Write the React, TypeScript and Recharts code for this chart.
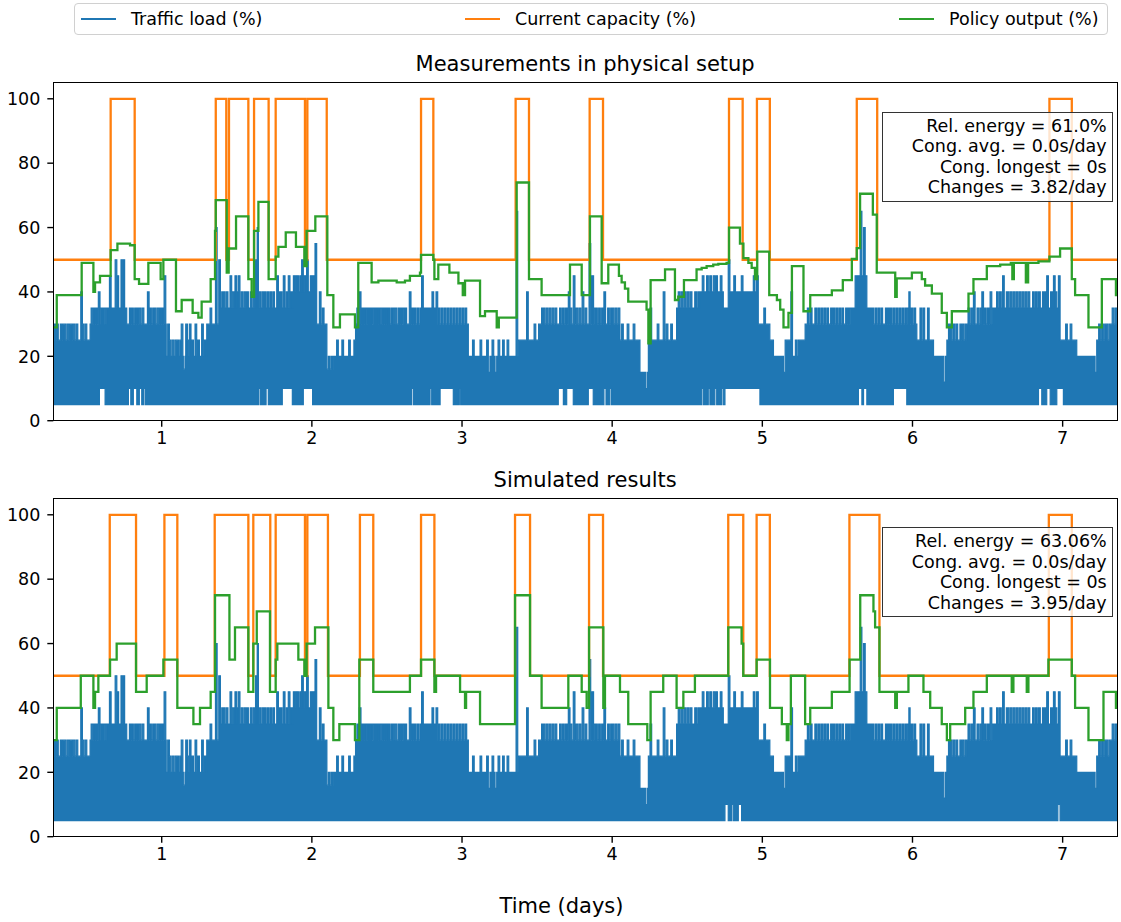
import { ComposedChart, Area, Line, XAxis, YAxis } from "recharts";

const X_MIN = 0.278;
const X_MAX = 7.362;
const SPIKE_W = 0.011;

const BLUE = "#1f77b4";
const ORANGE = "#ff7f0e";
const GREEN = "#2ca02c";
const FONT = "'DejaVu Sans', sans-serif";

const xTicks = [1, 2, 3, 4, 5, 6, 7];
const yTicks = [0, 20, 40, 60, 80, 100];
const seriesNames = ["Traffic load (%)", "Current capacity (%)", "Policy output (%)"];
const titles = ["Measurements in physical setup", "Simulated results"];
const stats1 = ["Rel. energy = 61.0%", "Cong. avg. = 0.0s/day", "Cong. longest = 0s", "Changes = 3.82/day"];
const stats2 = ["Rel. energy = 63.06%", "Cong. avg. = 0.0s/day", "Cong. longest = 0s", "Changes = 3.95/day"];

// traffic load: dense part of the trace, [day, level] (step)
const trafficBase: [number, number][] = [
  [0.278, 25], [0.523, 30], [0.645, 35], [0.767, 30], [1.03, 20], [1.3, 30], [1.388, 35],
  [1.877, 40], [2.032, 30], [2.1, 16], [2.143, 20], [2.287, 30], [2.72, 35], [2.831, 30],
  [3.042, 20], [3.375, 25], [3.52, 30], [4.052, 25], [4.185, 15], [4.241, 25], [4.429, 35],
  [4.585, 40], [4.74, 35], [4.784, 40], [4.973, 30], [5.05, 25], [5.074, 20], [5.152, 25],
  [5.197, 20], [5.24, 25], [5.285, 30], [5.585, 35], [5.629, 45], [5.696, 35], [5.74, 30],
  [6.029, 25], [6.14, 20], [6.229, 25], [6.362, 30], [6.539, 35], [6.983, 25], [7.094, 20],
  [7.227, 25], [7.316, 30],
];

// traffic load: single peaks / dips on top of the dense part
const trafficSpikes: [number, number][] = [
  [0.3, 30], [0.325, 30], [0.35, 30], [0.37, 30], [0.395, 30], [0.41, 30], [0.461, 40], [0.47, 30],
  [0.49, 30], [0.545, 35], [0.578, 40], [0.601, 35], [0.623, 35], [0.652, 45], [0.69, 50], [0.702, 45],
  [0.729, 50], [0.742, 50], [0.785, 35], [0.834, 35], [0.905, 40], [0.95, 35], [0.985, 35], [1.016, 45], [1.04, 30],
  [1.13, 30], [1.144, 16], [1.16, 30], [1.184, 30], [1.222, 30], [1.266, 30], [1.322, 35], [1.358, 60],
  [1.38, 50], [1.41, 40], [1.455, 45], [1.488, 45], [1.51, 45], [1.566, 40], [1.61, 40], [1.625, 50],
  [1.633, 60], [1.68, 40], [1.72, 40], [1.766, 45], [1.81, 45], [1.843, 45], [1.877, 45], [1.9, 45],
  [1.932, 50], [1.965, 50], [1.99, 45], [2.021, 55], [2.05, 40], [2.07, 35], [2.11, 20], [2.13, 20],
  [2.165, 25], [2.2, 25], [2.245, 25], [2.28, 25], [2.3, 35], [2.316, 40], [2.354, 35], [2.38, 35],
  [2.409, 35], [2.443, 35], [2.47, 35], [2.498, 35], [2.542, 35], [2.576, 35], [2.609, 35], [2.649, 40],
  [2.68, 35], [2.731, 45], [2.8, 40], [2.827, 40], [2.86, 35], [2.9, 35], [2.94, 35], [2.96, 35],
  [3.02, 35], [3.07, 25], [3.12, 25], [3.164, 25], [3.175, 15], [3.2, 25], [3.22, 15], [3.24, 25],
  [3.27, 25], [3.3, 25], [3.36, 65], [3.43, 40], [3.48, 30], [3.51, 30], [3.56, 35], [3.65, 35],
  [3.708, 40], [3.741, 45], [3.76, 35], [3.8, 40], [3.846, 55], [3.865, 45], [3.89, 35], [3.945, 40],
  [3.97, 35], [4.0, 35], [4.063, 30], [4.1, 30], [4.14, 30], [4.225, 10], [4.252, 35], [4.3, 30],
  [4.34, 40], [4.36, 30], [4.39, 30], [4.48, 40], [4.55, 40], [4.629, 45], [4.673, 45], [4.72, 45],
  [4.773, 50], [4.81, 45], [4.86, 45], [4.94, 45], [4.962, 45], [5.01, 35], [5.141, 15], [5.19, 40],
  [5.22, 25], [5.32, 35], [5.41, 35], [5.455, 35], [5.51, 35], [5.555, 35], [5.618, 45], [5.652, 65],
  [5.674, 60], [5.75, 35], [5.79, 35], [5.82, 35], [5.835, 35], [5.87, 35], [5.89, 35], [5.965, 35],
  [5.973, 40], [6.01, 35], [6.05, 35], [6.07, 35], [6.1, 35], [6.209, 12], [6.25, 30], [6.316, 30],
  [6.35, 30], [6.406, 40], [6.43, 35], [6.462, 40], [6.5, 35], [6.517, 40], [6.58, 40], [6.6, 45],
  [6.625, 40], [6.67, 40], [6.73, 40], [6.8, 40], [6.866, 40], [6.894, 45], [6.939, 45], [6.972, 45],
  [7.02, 30], [7.05, 30], [7.216, 15], [7.26, 30], [7.29, 30],
];

// the thinner comb of small peaks on top of the dense part
const trafficComb: [number, number][] = [
  [0.285, 30], [0.34, 30], [0.385, 30], [0.43, 30], [0.53, 35], [0.56, 35], [0.59, 35], [0.61, 35],
  [0.635, 35], [0.8, 35], [0.82, 35], [0.85, 35], [0.87, 35], [0.92, 35], [0.94, 35], [0.97, 35],
  [1.0, 35], [1.05, 25], [1.07, 25], [1.09, 25], [1.1, 25], [1.12, 25], [1.17, 25], [1.2, 25],
  [1.24, 25], [1.27, 25], [1.285, 25], [1.4, 40], [1.43, 40], [1.47, 40], [1.5, 40], [1.53, 40],
  [1.55, 40], [1.59, 40], [1.65, 40], [1.67, 40], [1.7, 40], [1.74, 40], [1.78, 40], [1.79, 40],
  [1.83, 40], [1.86, 40], [1.89, 45], [1.92, 45], [1.95, 45], [2.0, 45], [2.01, 45], [2.33, 35],
  [2.34, 35], [2.37, 35], [2.39, 35], [2.42, 35], [2.43, 35], [2.455, 35], [2.485, 35], [2.51, 35],
  [2.53, 35], [2.555, 35], [2.59, 35], [2.62, 35], [2.665, 35], [2.7, 35], [2.84, 35], [2.88, 35],
  [2.92, 35], [2.98, 35], [3.0, 35], [3.53, 35], [3.54, 35], [3.58, 35], [3.6, 35], [3.62, 35],
  [3.67, 35], [3.69, 35], [3.72, 35], [3.78, 35], [3.82, 35], [3.88, 35], [3.91, 35], [3.93, 35],
  [3.99, 35], [4.02, 35], [4.04, 35], [4.44, 40], [4.46, 40], [4.5, 40], [4.52, 40], [4.57, 40],
  [4.6, 45], [4.65, 45], [4.69, 45], [5.3, 35], [5.35, 35], [5.37, 35], [5.39, 35], [5.43, 35],
  [5.47, 35], [5.49, 35], [5.53, 35], [5.57, 35], [5.77, 35], [5.85, 35], [5.91, 35], [5.93, 35],
  [5.95, 35], [5.99, 35], [6.24, 30], [6.27, 30], [6.29, 30], [6.33, 30], [6.37, 35], [6.39, 35],
  [6.45, 35], [6.48, 35], [6.53, 35], [6.56, 40], [6.63, 40], [6.65, 40], [6.69, 40], [6.71, 40],
  [6.75, 40], [6.77, 40], [6.82, 40], [6.84, 40], [6.88, 40], [6.92, 40], [6.95, 40], [7.24, 30],
  [7.28, 30], [7.31, 30], [7.33, 35], [7.35, 35],
];

// spans where the load never falls below 10 %
const holes1: [number, number][] = [
  [0.585, 0.623], [0.778, 0.794], [0.811, 0.834], [0.851, 0.867], [0.878, 0.889], [1.644, 1.655],
  [1.695, 1.71], [1.803, 1.87], [1.943, 2.005], [2.664, 2.676], [2.787, 2.798], [2.854, 2.942],
  [2.982, 2.991], [3.641, 3.675], [3.697, 3.741], [3.841, 3.874], [3.945, 3.959], [3.985, 3.996],
  [4.596, 4.607], [4.64, 4.651], [4.684, 4.696], [4.729, 4.74], [4.751, 4.984], [5.64, 5.663],
  [5.674, 5.696], [5.873, 5.962], [6.839, 6.861], [6.894, 6.917], [6.961, 7.005],
];
const holes2: [number, number][] = [
  [4.751, 4.773], [4.795, 4.806], [4.84, 4.862], [6.968, 6.983],
];

// current capacity, [day, %] (step)
const capacity1: [number, number][] = [
  [0.278, 50], [0.66, 100], [0.82, 50], [1.36, 100], [1.43, 50], [1.448, 100], [1.577, 50],
  [1.615, 100], [1.712, 50], [1.759, 100], [1.954, 50], [1.97, 100], [2.099, 50], [2.727, 100],
  [2.809, 50], [3.357, 100], [3.446, 50], [3.85, 100], [3.939, 50], [4.778, 100], [4.869, 50],
  [4.964, 100], [5.05, 50], [5.629, 100], [5.765, 50], [6.912, 100], [7.061, 50], [7.362, 50],
];
const capacity2: [number, number][] = [
  [0.278, 50], [0.654, 100], [0.829, 50], [1.018, 100], [1.104, 50], [1.353, 100], [1.577, 50],
  [1.61, 100], [1.723, 50], [1.759, 100], [1.954, 50], [1.97, 100], [2.107, 50], [2.32, 100],
  [2.409, 50], [2.727, 100], [2.816, 50], [3.353, 100], [3.453, 50], [3.846, 100], [3.939, 50],
  [4.773, 100], [4.873, 50], [4.962, 100], [5.05, 50], [5.58, 100], [5.78, 50], [6.908, 100],
  [7.061, 50], [7.362, 50],
];

// policy output, [day, %] (step)
const policy1: [number, number][] = [
  [0.278, 29], [0.301, 39], [0.467, 49], [0.545, 40], [0.556, 43], [0.589, 45], [0.66, 53],
  [0.705, 55], [0.789, 54.5], [0.82, 44], [0.849, 42.5], [0.911, 49], [0.993, 44], [1.011, 50],
  [1.095, 34], [1.133, 37.5], [1.206, 33.5], [1.244, 32], [1.266, 37], [1.326, 44], [1.355, 59],
  [1.36, 68.5], [1.433, 46], [1.446, 53.5], [1.495, 63.5], [1.577, 44], [1.599, 38.5], [1.615, 59],
  [1.644, 68], [1.712, 44], [1.759, 51], [1.777, 54], [1.826, 58.5], [1.894, 54], [1.95, 48],
  [1.965, 59], [2.023, 63.5], [2.103, 39], [2.143, 29], [2.187, 33], [2.287, 29], [2.309, 49],
  [2.398, 43], [2.443, 43.5], [2.565, 43], [2.62, 43.5], [2.653, 45], [2.72, 46], [2.727, 51.5],
  [2.809, 50], [2.816, 44], [2.842, 48.5], [2.916, 46], [2.976, 42.7], [3.005, 39], [3.02, 43.5],
  [3.12, 32.5], [3.153, 34], [3.231, 29], [3.245, 32], [3.353, 32], [3.364, 74], [3.446, 44],
  [3.53, 39], [3.719, 48.5], [3.797, 39], [3.852, 63.5], [3.93, 42.7], [3.974, 48.5], [4.045, 45],
  [4.063, 43], [4.085, 41], [4.107, 37], [4.229, 34.5], [4.241, 24], [4.256, 43.7], [4.352, 47],
  [4.418, 37.5], [4.44, 38.5], [4.478, 43.7], [4.562, 47], [4.596, 47.5], [4.629, 48], [4.673, 48.5],
  [4.707, 48.7], [4.762, 49], [4.778, 60], [4.851, 55], [4.874, 50.5], [4.907, 49], [4.929, 47.5],
  [4.951, 44], [4.966, 52.5], [5.046, 39], [5.097, 37.5], [5.119, 34.5], [5.141, 29], [5.174, 33.5],
  [5.197, 48], [5.274, 34], [5.319, 39], [5.463, 40.5], [5.536, 43.7], [5.596, 50.3], [5.629, 53.6],
  [5.651, 70.5], [5.736, 64], [5.762, 46], [5.885, 38.5], [5.895, 44.2], [5.996, 46], [6.062, 44],
  [6.084, 42], [6.129, 39.5], [6.195, 33.5], [6.229, 29], [6.262, 34], [6.373, 39.5], [6.406, 44],
  [6.495, 48], [6.584, 48.5], [6.655, 49], [6.665, 44], [6.675, 49], [6.755, 43], [6.77, 49],
  [6.839, 49.5], [6.912, 51], [6.983, 53.5], [7.061, 44], [7.083, 39], [7.172, 29], [7.261, 44],
  [7.355, 39], [7.362, 39],
];
const policy2: [number, number][] = [
  [0.278, 30], [0.301, 40], [0.461, 50], [0.545, 40], [0.556, 45], [0.578, 50], [0.656, 55],
  [0.7, 60], [0.829, 45], [0.9, 50], [1.011, 55], [1.104, 40], [1.211, 35], [1.255, 40],
  [1.326, 45], [1.355, 75], [1.451, 55], [1.488, 65], [1.577, 45], [1.61, 60], [1.633, 70],
  [1.721, 45], [1.759, 55], [1.77, 60], [1.91, 55], [1.95, 50], [1.965, 60], [2.021, 65],
  [2.11, 40], [2.143, 30], [2.183, 35], [2.287, 30], [2.316, 55], [2.409, 45], [2.653, 50],
  [2.727, 55], [2.816, 45], [2.827, 50], [2.987, 45], [3.02, 40], [3.027, 45], [3.12, 35],
  [3.353, 75], [3.453, 50], [3.53, 40], [3.708, 50], [3.797, 45], [3.83, 40], [3.846, 65],
  [3.941, 40], [3.952, 50], [4.052, 45], [4.107, 35], [4.234, 30], [4.256, 45], [4.34, 50],
  [4.429, 40], [4.474, 45], [4.551, 50], [4.773, 65], [4.862, 60], [4.873, 50], [4.962, 55],
  [5.051, 40], [5.13, 35], [5.163, 30], [5.174, 35], [5.19, 50], [5.285, 35], [5.319, 40],
  [5.463, 45], [5.581, 55], [5.652, 75], [5.74, 70], [5.751, 65], [5.78, 45], [5.885, 40],
  [5.896, 45], [5.973, 50], [6.073, 45], [6.118, 40], [6.195, 35], [6.229, 30], [6.251, 35],
  [6.351, 40], [6.406, 45], [6.495, 50], [6.661, 45], [6.672, 50], [6.761, 45], [6.772, 50],
  [6.905, 55], [7.061, 50], [7.083, 40], [7.172, 30], [7.272, 45], [7.355, 40], [7.362, 40],
];

const toPoints = (pairs: [number, number][]) => pairs.map(([t, v]) => ({ t, v }));

const allSpikes = [...trafficSpikes, ...trafficComb];

function baseAt(t: number) {
  let v = trafficBase[0][1];
  for (const [bt, bv] of trafficBase) {
    if (bt <= t + 1e-9) v = bv;
    else break;
  }
  return v;
}

// merge dense level, peaks and holes into one stepped band [low, high]
function buildTraffic(holes: [number, number][]) {
  const set = new Set<number>();
  trafficBase.forEach(([t]) => set.add(t));
  allSpikes.forEach(([t]) => { set.add(t); set.add(+(t + SPIKE_W).toFixed(4)); });
  holes.forEach(([a, b]) => { set.add(a); set.add(b); });
  set.add(X_MAX);
  const ts = [...set].filter((t) => t >= X_MIN && t <= X_MAX).sort((a, b) => a - b);
  return ts.map((t) => {
    const s = allSpikes.find(([st]) => t >= st - 1e-9 && t < st + SPIKE_W - 1e-9);
    const hi = s ? s[1] : baseAt(t);
    const lo = holes.some(([a, b]) => t >= a - 1e-9 && t < b - 1e-9) ? 10 : 5;
    return { t, range: [lo, hi] };
  });
}

const tickStyle = { fontSize: 17.5, fill: "#000", fontFamily: FONT };
const tickLineStyle = { stroke: "#000", strokeWidth: 1.4 };

const PLOT_LEFT = 53.3;
const PLOT_RIGHT = 1117;
const PLOT_TOP = 82.7;
const PLOT_BOTTOM = 420.7;
const CHART_H = 460;
const X_AXIS_H = 38;

function Panel({ top, title, traffic, capacity, policy, stats }: {
  top: number; title: string; traffic: any[]; capacity: any[]; policy: any[]; stats: string[];
}) {
  return (
    <div style={{ position: "absolute", left: 0, top, width: 1121, height: CHART_H }}>
      <div style={{
        position: "absolute", left: PLOT_LEFT, width: PLOT_RIGHT - PLOT_LEFT, top: 51, height: 26,
        lineHeight: "26px", textAlign: "center", fontFamily: FONT, fontSize: 21, color: "#000",
      }}>{title}</div>
      <ComposedChart
        width={1121}
        height={CHART_H}
        data={traffic}
        margin={{ top: PLOT_TOP, left: 0, right: 1121 - PLOT_RIGHT, bottom: CHART_H - PLOT_BOTTOM - X_AXIS_H }}
      >
        <XAxis
          dataKey="t" type="number" domain={[X_MIN, X_MAX]} allowDataOverflow ticks={xTicks}
          interval={0} height={X_AXIS_H} tickSize={6} tickMargin={5} axisLine={false}
          tickLine={tickLineStyle} tick={tickStyle}
        />
        <YAxis
          type="number" domain={[0, 105]} allowDataOverflow ticks={yTicks} interval={0}
          width={PLOT_LEFT} tickSize={6} tickMargin={7} axisLine={false}
          tickLine={tickLineStyle} tick={tickStyle}
        />
        <Area
          dataKey="range" type="stepAfter" fill={BLUE} fillOpacity={1} stroke={BLUE} strokeWidth={1.2}
          isAnimationActive={false} dot={false} activeDot={false}
        />
        <Line
          data={capacity} dataKey="v" type="stepAfter" stroke={ORANGE} strokeWidth={2.3}
          dot={false} activeDot={false} isAnimationActive={false}
        />
        <Line
          data={policy} dataKey="v" type="stepAfter" stroke={GREEN} strokeWidth={2.3}
          dot={false} activeDot={false} isAnimationActive={false}
        />
      </ComposedChart>
      {/* axes frame */}
      <div style={{
        position: "absolute", left: PLOT_LEFT - 0.7, top: PLOT_TOP - 0.7,
        width: PLOT_RIGHT - PLOT_LEFT + 1.4, height: PLOT_BOTTOM - PLOT_TOP + 1.4,
        border: "1.4px solid #000", boxSizing: "border-box", pointerEvents: "none",
      }} />
      {/* stats box */}
      <div style={{
        position: "absolute", left: 881.7, top: 111.7, width: 231, height: 90,
        border: "1.3px solid #333", boxSizing: "border-box", background: "rgba(255,255,255,0.8)",
        fontFamily: FONT, fontSize: 17.5, color: "#000", textAlign: "right",
        padding: "3px 5px 0 0", lineHeight: "20.6px", whiteSpace: "nowrap",
      }}>
        {stats.map((s) => <div key={s}>{s}</div>)}
      </div>
    </div>
  );
}

function TopLegend() {
  const colors = [BLUE, ORANGE, GREEN];
  const handleX = [80, 464, 898];
  return (
    <div style={{
      position: "absolute", left: 73.5, top: 3.3, width: 1034, height: 32,
      border: "1px solid #d0d0d0", borderRadius: 4, boxSizing: "border-box", background: "#fff",
    }}>
      {seriesNames.map((name, i) => (
        <div key={name} style={{ position: "absolute", left: handleX[i] - 73.5, top: 0, height: 30, display: "flex", alignItems: "center" }}>
          <div style={{ width: 35, height: 2.4, background: colors[i] }} />
          <span style={{ marginLeft: 15, fontFamily: FONT, fontSize: 17.5, color: "#000", whiteSpace: "nowrap" }}>{name}</span>
        </div>
      ))}
    </div>
  );
}

export default function App() {
  const traffic1 = buildTraffic(holes1);
  const traffic2 = buildTraffic(holes2);
  return (
    <div style={{ position: "absolute", left: 0, top: 0, width: 1121, height: 922, background: "#fff", overflow: "hidden" }}>
      <Panel top={0} title={titles[0]} traffic={traffic1} capacity={toPoints(capacity1)} policy={toPoints(policy1)} stats={stats1} />
      <Panel top={415.6} title={titles[1]} traffic={traffic2} capacity={toPoints(capacity2)} policy={toPoints(policy2)} stats={stats2} />
      <TopLegend />
      <div style={{
        position: "absolute", left: 0, width: 1121, top: 892, height: 28, lineHeight: "28px",
        textAlign: "center", fontFamily: FONT, fontSize: 21, color: "#000",
      }}>
        <span style={{ position: "relative", left: 1 }}>Time (days)</span>
      </div>
    </div>
  );
}
